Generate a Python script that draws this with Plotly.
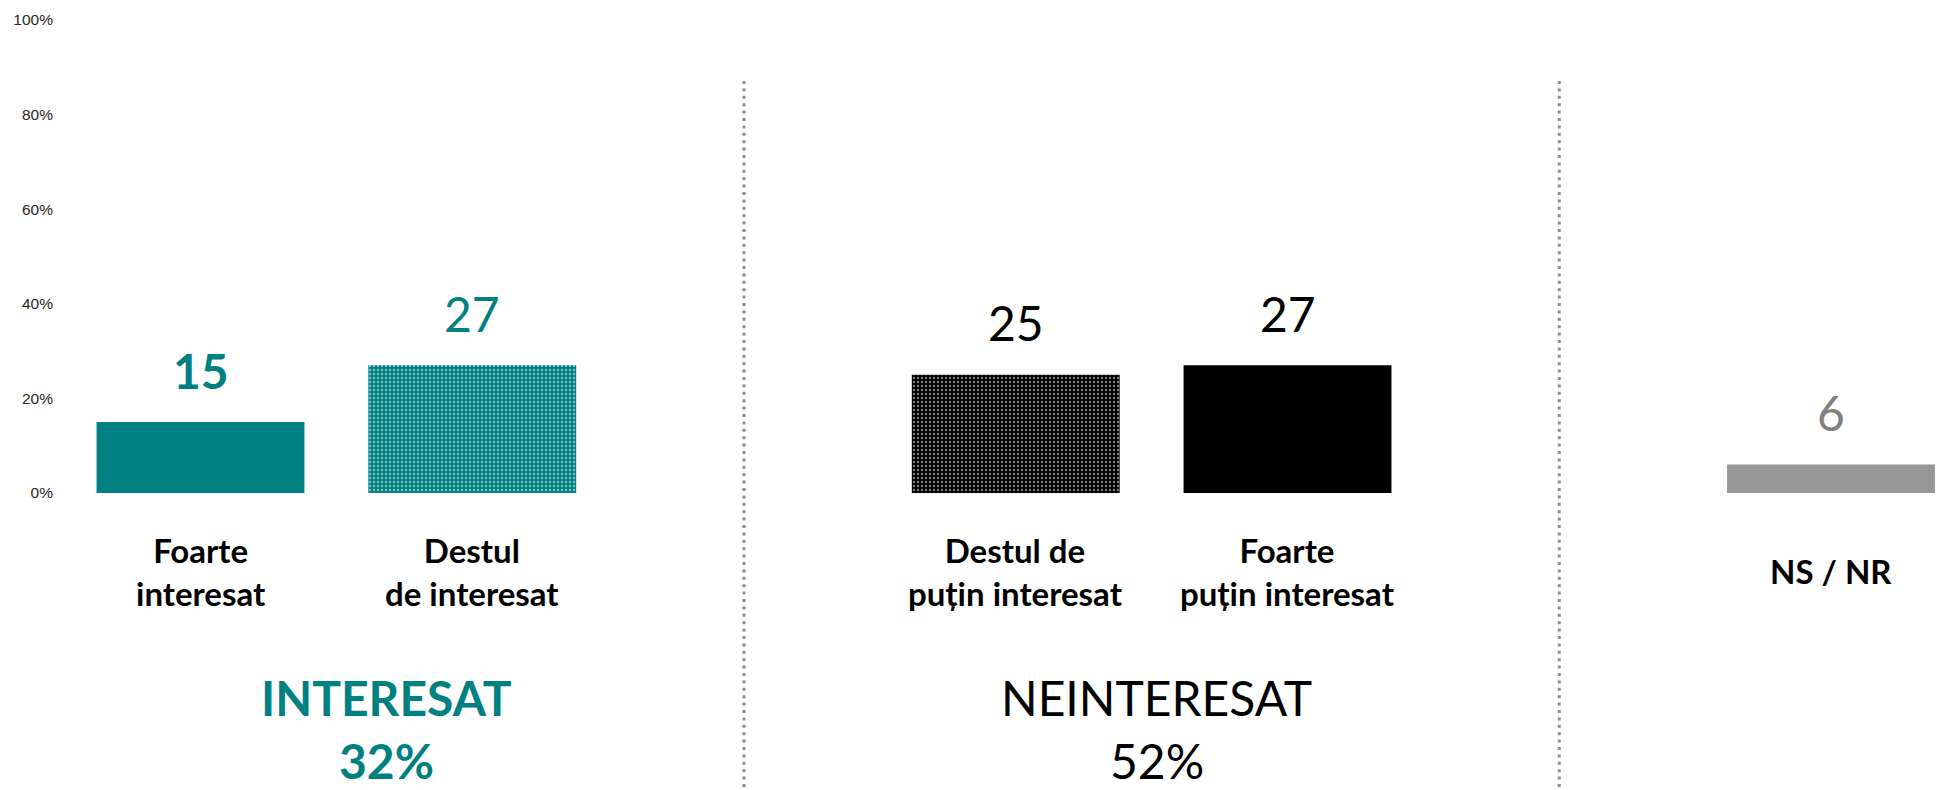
import plotly.graph_objects as go

# ---- data ----
categories = ["Foarte<br>interesat", "Destul<br>de interesat",
              "Destul de<br>puțin interesat", "Foarte<br>puțin interesat", "NS / NR"]
values = [15, 27, 25, 27, 6]
group_names = ["INTERESAT", "NEINTERESAT"]
group_totals = [32, 52]
y_ticks = [0, 20, 40, 60, 80, 100]
y_tick_labels = [f"{t}%" for t in y_ticks]

# ---- styles ----
TEAL = "#008080"
bar_colors = [TEAL, TEAL, "#000000", "#000000", "#969696"]
pattern_shapes = ["", ".", ".", "", ""]
pattern_bg = [TEAL, TEAL, "#000000", "#000000", "#969696"]
value_colors = [TEAL, TEAL, "#000000", "#000000", "#808080"]
value_weights = ["bold", "normal", "normal", "normal", "normal"]
group_colors = [TEAL, "#000000"]
group_weights = ["bold", "normal"]
FONT = "Lato"

# category order with spacer slots between groups
spacers = [" ", "  "]
cat_order = categories[:2] + [spacers[0]] + categories[2:4] + [spacers[1]] + categories[4:]

W, H = 1937, 790
ML, MR, MT, MB = 60, 0, 20, 297
PH = H - MT - MB


def py2paper(py):
    return (H - MB - py) / PH


def px2paper(px):
    return (px - ML) / (W - ML - MR)


fig = go.Figure()
fig.add_trace(go.Bar(
    x=categories, y=values, width=0.765,
    marker=dict(color=bar_colors, line=dict(width=0),
                pattern=dict(shape=pattern_shapes, fgcolor="#ffffff",
                             bgcolor=pattern_bg, size=4, solidity=0.28)),
    hoverinfo="x+y", showlegend=False,
))

annotations = []
for c, v, col, wt in zip(categories, values, value_colors, value_weights):
    annotations.append(dict(x=c, y=v, xref="x", yref="y", text=str(v),
                            showarrow=False, xanchor="center", yanchor="middle", yshift=52,
                            font=dict(family=FONT, size=48, color=col, weight=wt)))
    annotations.append(dict(x=c, y=py2paper(571), xref="x", yref="paper", text=c,
                            showarrow=False, xanchor="center", yanchor="middle",
                            font=dict(family=FONT, size=33, color="#000000", weight="bold")))

group_px = [386.5, 1156.7]
for name, tot, gx, col, wt in zip(group_names, group_totals, group_px, group_colors, group_weights):
    annotations.append(dict(x=px2paper(gx), y=py2paper(697), xref="paper", yref="paper",
                            text=name, showarrow=False, xanchor="center", yanchor="middle",
                            font=dict(family=FONT, size=48, color=col, weight=wt)))
    annotations.append(dict(x=px2paper(gx), y=py2paper(760), xref="paper", yref="paper",
                            text=f"{tot}%", showarrow=False, xanchor="center", yanchor="middle",
                            font=dict(family=FONT, size=48, color=col, weight=wt)))

shapes = []
for s in spacers:
    xi = cat_order.index(s)
    shapes.append(dict(type="line", xref="x", yref="paper", x0=xi, x1=xi,
                       y0=py2paper(81), y1=py2paper(792),
                       line=dict(color="#8c8c8c", width=3, dash="3px,4.4px")))

fig.update_layout(
    width=W, height=H,
    margin=dict(l=ML, r=MR, t=MT, b=MB, pad=0),
    paper_bgcolor="#ffffff", plot_bgcolor="#ffffff",
    annotations=annotations, shapes=shapes,
    bargap=0.2,
    xaxis=dict(type="category", categoryorder="array", categoryarray=cat_order,
               range=[-0.517, 6.39], showticklabels=False, showgrid=False,
               zeroline=False, showline=False, ticks=""),
    yaxis=dict(range=[0, 100], tickmode="array", tickvals=y_ticks, ticktext=y_tick_labels,
               showgrid=False, zeroline=False, showline=False, ticks="",
               ticklabelstandoff=6,
               tickfont=dict(family="Liberation Sans, Arial", size=15.5, color="#262626")),
)

fig.write_html("out.html", config={"displayModeBar": False},
               post_script="document.body.style.margin='0';document.body.style.overflow='hidden';")
